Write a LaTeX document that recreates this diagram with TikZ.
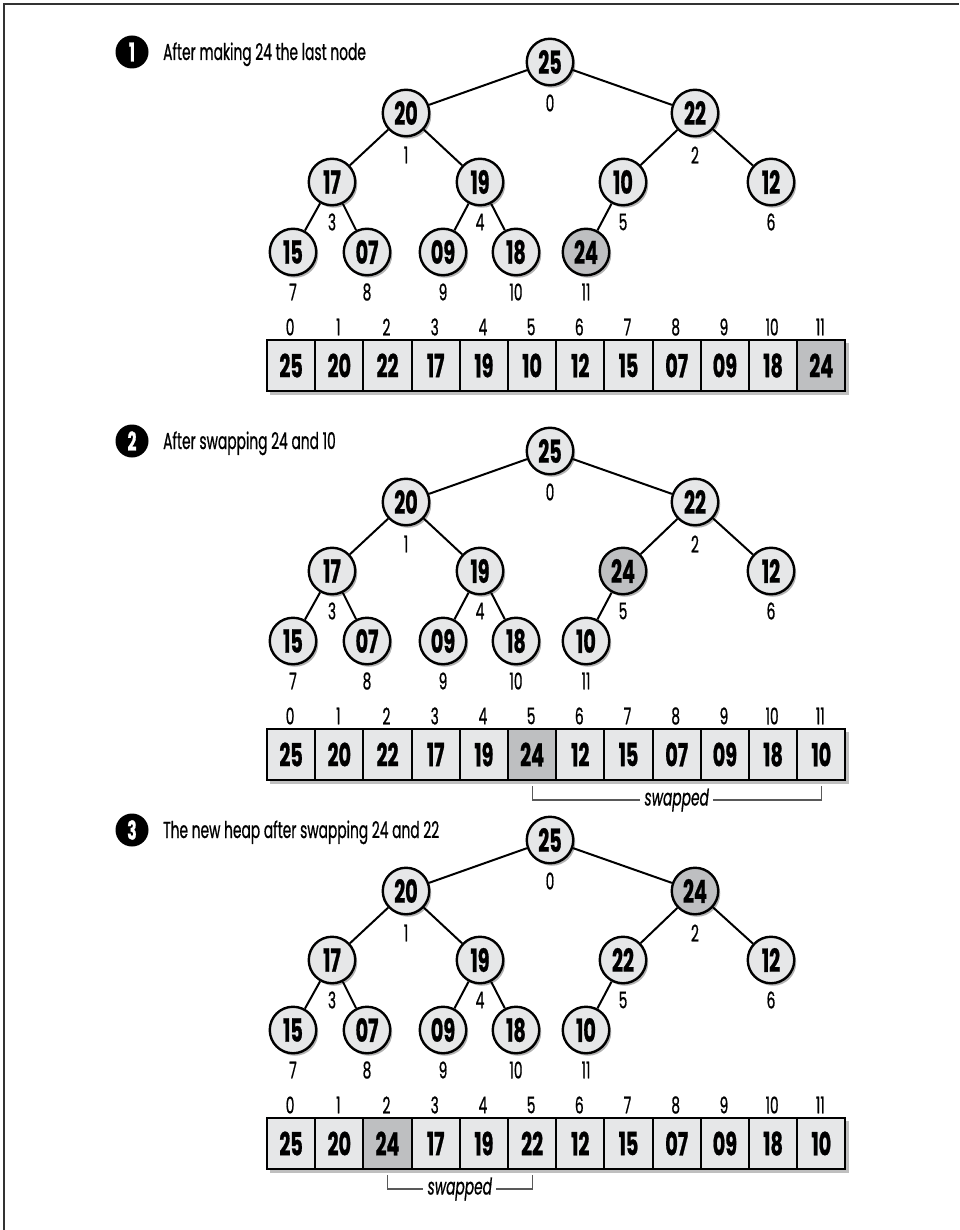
\documentclass[tikz,border=0pt]{standalone}
\usepackage{fontspec}
\setmainfont{Poppins}[FakeStretch=0.6, FakeBold=0.7]
\usetikzlibrary{shadows,calc}
\definecolor{cellfill}{HTML}{E6E7E8}
\definecolor{hifill}{HTML}{BEBFC1}
\newcommand{\hpnum}{\fontsize{32}{32}\selectfont\bfseries}
\newcommand{\hpidx}{\fontsize{23}{23}\selectfont}
\newcommand{\hpttl}{\fontsize{23}{25}\selectfont}
\def\hpX{{550,406,695,332,480,623,771,293,367,443,516,586}}
\def\hpY{{62,113,113,182,182,182,182,252,252,252,252,252}}
\def\hpL{{41,42,42,40,40,40,40,40,40,40,40,40}}
\tikzset{
  heapnode/.style={circle, draw=black, line width=2.4pt, fill=cellfill, minimum size=46.5pt, inner sep=0pt, font=\hpnum,
    drop shadow={shadow xshift=2pt, shadow yshift=-2.5pt, fill=black, opacity=0.3}},
  hinode/.style={heapnode, fill=hifill},
  idx/.style={font=\hpidx, inner sep=0pt},
  edgeline/.style={line width=2pt},
  cell/.style={draw=black, line width=2pt, fill=cellfill, minimum width=48.2pt, minimum height=51pt, inner sep=0pt, anchor=north west, font=\hpnum},
  hicell/.style={cell, fill=hifill},
  bullet/.style={circle, fill=black, minimum size=33pt, inner sep=0pt, text=white, font=\fontsize{26}{26}\selectfont\bfseries},
  ttl/.style={anchor=base west, inner sep=0pt, font=\hpttl},
  brk/.style={line width=1.2pt, draw=black!65},
  brktxt/.style={font=\hpidx\itshape, inner xsep=4pt, inner ysep=0pt}
}
\newcommand{\hpsection}[5]{%
  \node[bullet] (b#1) at (132,52+#2) {#1};
  \node[ttl] (t#1) at (163,60+#2) {#3};
  \foreach[count=\i from 0] \v in {#4} {
    \pgfmathsetmacro{\nx}{\hpX[\i]}
    \pgfmathsetmacro{\ny}{\hpY[\i]+#2}
    \pgfmathsetmacro{\ly}{\hpY[\i]+\hpL[\i]+#2}
    \ifnum\i=#5 \def\st{hinode}\else\def\st{heapnode}\fi
    \node[\st] (s#1n\i) at (\nx,\ny) {\v};
    \node[idx] (s#1l\i) at (\nx,\ly) {\i};
  }
  \foreach \c/\p in {1/0,2/0,3/1,4/1,5/2,6/2,7/3,8/3,9/4,10/4,11/5}
    \draw[edgeline] (s#1n\p) -- (s#1n\c);
  \fill[black, opacity=0.25] (270,343+#2) rectangle (849,395+#2);
  \foreach[count=\i from 0] \v in {#4} {
    \ifnum\i=#5 \def\cst{hicell}\else\def\cst{cell}\fi
    \node[\cst] (s#1c\i) at (266+48.2*\i,339+#2) {\v};
    \node[idx] (s#1a\i) at (290.1+48.2*\i,327+#2) {\i};
  }
}
\newcommand{\hpbracket}[3]{%
  \coordinate (k#1a) at ([yshift=-5pt]s#1c#2.south);
  \coordinate (k#1b) at ([yshift=-5pt]s#1c#3.south);
  \node[brktxt] (w#1) at ($(k#1a)!0.5!(k#1b)+(0,14)$) {swapped};
  \draw[brk] (k#1a) |- (w#1.west);
  \draw[brk] (w#1.east) -| (k#1b);
}
\begin{document}
\begin{tikzpicture}[x=1pt,y=-1pt]
\useasboundingbox (0,0) rectangle (959,1230);
\draw[black!80, line width=2pt] (4,1230) -- (4,4) -- (959,4);
\hpsection{1}{0}{After making 24 the last node}{25,20,22,17,19,10,12,15,07,09,18,24}{11}
\hpsection{2}{389}{After swapping 24 and 10}{25,20,22,17,19,24,12,15,07,09,18,10}{5}
\hpsection{3}{778}{The new heap after swapping 24 and 22}{25,20,24,17,19,22,12,15,07,09,18,10}{2}
\hpbracket{2}{5}{11}
\hpbracket{3}{2}{5}
\end{tikzpicture}
\end{document}
